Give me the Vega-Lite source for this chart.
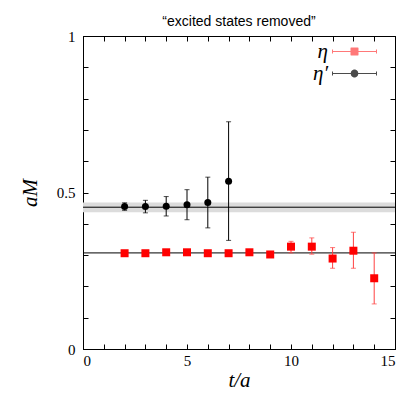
{
  "$schema": "https://vega.github.io/schema/vega-lite/v6.json",
  "width": 312,
  "height": 313,
  "autosize": "none",
  "padding": {"left": 83, "top": 36, "right": 11, "bottom": 46},
  "title": {"text": "“excited states removed”", "font": "Liberation Sans", "fontSize": 14, "fontWeight": "normal", "color": "black", "offset": 0, "anchor": "middle"},
  "config": {
    "view": {"stroke": "black", "strokeWidth": 1},
    "axis": {"domainColor": "black", "tickColor": "black", "labelColor": "black", "titleColor": "black", "grid": false, "labelFont": "Liberation Serif", "labelFontSize": 15, "titleFont": "Liberation Serif", "titleFontSize": 21, "titleFontStyle": "italic", "titleFontWeight": "normal", "tickSize": -5, "tickWidth": 1}
  },
  "datasets": {
    "pts": [
      {"series": "η′", "t": 2, "m": 0.455, "lo": 0.443, "hi": 0.467},
      {"series": "η′", "t": 3, "m": 0.455, "lo": 0.435, "hi": 0.475},
      {"series": "η′", "t": 4, "m": 0.456, "lo": 0.425, "hi": 0.487},
      {"series": "η′", "t": 5, "m": 0.461, "lo": 0.413, "hi": 0.509},
      {"series": "η′", "t": 6, "m": 0.468, "lo": 0.387, "hi": 0.549},
      {"series": "η′", "t": 7, "m": 0.536, "lo": 0.347, "hi": 0.726},
      {"series": "η", "t": 2, "m": 0.306, "lo": 0.303, "hi": 0.309},
      {"series": "η", "t": 3, "m": 0.306, "lo": 0.303, "hi": 0.309},
      {"series": "η", "t": 4, "m": 0.309, "lo": 0.306, "hi": 0.312},
      {"series": "η", "t": 5, "m": 0.309, "lo": 0.306, "hi": 0.312},
      {"series": "η", "t": 6, "m": 0.306, "lo": 0.303, "hi": 0.309},
      {"series": "η", "t": 7, "m": 0.306, "lo": 0.303, "hi": 0.309},
      {"series": "η", "t": 8, "m": 0.309, "lo": 0.306, "hi": 0.312},
      {"series": "η", "t": 9, "m": 0.302, "lo": 0.296, "hi": 0.308},
      {"series": "η", "t": 10, "m": 0.327, "lo": 0.307, "hi": 0.344},
      {"series": "η", "t": 11, "m": 0.327, "lo": 0.303, "hi": 0.355},
      {"series": "η", "t": 12, "m": 0.289, "lo": 0.258, "hi": 0.324},
      {"series": "η", "t": 13, "m": 0.314, "lo": 0.258, "hi": 0.373},
      {"series": "η", "t": 14, "m": 0.226, "lo": 0.144, "hi": 0.307}
    ],
    "band": [{"x0": 0, "x1": 15, "y0": 0.437, "y1": 0.468}],
    "fits": [{"level": 0.453}, {"level": 0.307}]
  },
  "layer": [
    {
      "data": {"name": "band"},
      "mark": {"type": "rect", "fill": "#dcdcdc"},
      "encoding": {
        "x": {"field": "x0", "type": "quantitative", "scale": {"domain": [0, 15], "nice": false, "zero": false},
          "axis": {"orient": "bottom", "values": [0,1,2,3,4,5,6,7,8,9,10,11,12,13,14,15], "labelExpr": "datum.value % 5 === 0 ? datum.label : ''", "format": "~g", "labelPadding": 9, "title": "t/a", "titlePadding": 1}},
        "x2": {"field": "x1"},
        "y": {"field": "y0", "type": "quantitative", "scale": {"domain": [0, 1], "nice": false, "zero": false},
          "axis": {"orient": "left", "values": [0,0.1,0.2,0.3,0.4,0.5,0.6,0.7,0.8,0.9,1], "labelExpr": "(datum.value === 0 || datum.value === 0.5 || datum.value === 1) ? datum.label : ''", "format": "~g", "labelPadding": 13, "title": "aM", "titlePadding": 16}},
        "y2": {"field": "y1"}
      }
    },
    {
      "data": {"name": "fits"},
      "mark": {"type": "rule", "color": "black", "strokeWidth": 1},
      "encoding": {"y": {"field": "level", "type": "quantitative", "axis": null}}
    },
    {
      "data": {"name": "pts"},
      "mark": {"type": "rule", "strokeWidth": 1},
      "encoding": {
        "x": {"field": "t", "type": "quantitative", "axis": null},
        "y": {"field": "lo", "type": "quantitative", "axis": null},
        "y2": {"field": "hi"},
        "color": {"field": "series", "type": "nominal", "scale": {"domain": ["η", "η′"], "range": ["#ff4040", "#000000"]},
          "legend": {
            "title": null, "orient": "none", "legendX": 261, "legendY": 5, "padding": 0,
            "symbolSize": 400, "symbolStrokeWidth": 1, "symbolOpacity": 1, "rowPadding": 0,
            "labelFont": "Liberation Serif", "labelFontSize": 21, "labelFontStyle": "italic", "labelColor": "black",
            "labelAlign": "right", "labelOffset": -37
          }}
      }
    },
    {
      "data": {"name": "pts"},
      "mark": {"type": "tick", "orient": "horizontal", "size": 5, "thickness": 1},
      "encoding": {
        "x": {"field": "t", "type": "quantitative", "axis": null},
        "y": {"field": "lo", "type": "quantitative", "axis": null},
        "color": {"field": "series", "type": "nominal"}
      }
    },
    {
      "data": {"name": "pts"},
      "mark": {"type": "tick", "orient": "horizontal", "size": 5, "thickness": 1},
      "encoding": {
        "x": {"field": "t", "type": "quantitative", "axis": null},
        "y": {"field": "hi", "type": "quantitative", "axis": null},
        "color": {"field": "series", "type": "nominal"}
      }
    },
    {
      "data": {"name": "pts"},
      "transform": [{"filter": "datum.series === 'η'"}],
      "mark": {"type": "point", "shape": "square", "filled": true, "size": 64, "color": "#ff0000", "opacity": 1},
      "encoding": {
        "x": {"field": "t", "type": "quantitative",
          "axis": {"orient": "top", "values": [0,1,2,3,4,5,6,7,8,9,10,11,12,13,14,15], "labels": false, "title": null}},
        "y": {"field": "m", "type": "quantitative",
          "axis": {"orient": "right", "values": [0,0.1,0.2,0.3,0.4,0.5,0.6,0.7,0.8,0.9,1], "labels": false, "title": null}}
      }
    },
    {
      "data": {"name": "pts"},
      "transform": [{"filter": "datum.series === 'η′'"}],
      "mark": {"type": "point", "shape": "circle", "filled": true, "size": 49, "color": "#000000", "opacity": 1},
      "encoding": {
        "x": {"field": "t", "type": "quantitative", "axis": null},
        "y": {"field": "m", "type": "quantitative", "axis": null}
      }
    },
    {
      "data": {"name": "pts"},
      "transform": [{"filter": "false"}],
      "mark": {"type": "point", "filled": false, "opacity": 1, "strokeWidth": 1},
      "encoding": {
        "x": {"field": "t", "type": "quantitative", "axis": null},
        "y": {"field": "m", "type": "quantitative", "axis": null},
        "color": {"field": "series", "type": "nominal"},
        "shape": {"field": "series", "type": "nominal",
          "scale": {"domain": ["η", "η′"], "range": [
            "M-2.2,0H2.2M-2.2,-0.2V0.2M2.2,-0.2V0.2M-0.38,-0.35H0.38M-0.38,-0.3H0.38M-0.38,-0.25H0.38M-0.38,-0.2H0.38M-0.38,-0.15H0.38M-0.38,-0.1H0.38M-0.38,-0.05H0.38M-0.38,0.05H0.38M-0.38,0.1H0.38M-0.38,0.15H0.38M-0.38,0.2H0.38M-0.38,0.25H0.38M-0.38,0.3H0.38M-0.38,0.35H0.38",
            "M-2.2,0H2.2M-2.2,-0.2V0.2M2.2,-0.2V0.2M-0.12,-0.35H0.12M-0.217,-0.3H0.217M-0.273,-0.25H0.273M-0.311,-0.2H0.311M-0.338,-0.15H0.338M-0.356,-0.1H0.356M-0.367,-0.05H0.367M-0.367,0.05H0.367M-0.356,0.1H0.356M-0.338,0.15H0.338M-0.311,0.2H0.311M-0.273,0.25H0.273M-0.217,0.3H0.217M-0.12,0.35H0.12"
          ]},
          "legend": {
            "title": null, "orient": "none", "legendX": 261, "legendY": 5, "padding": 0,
            "symbolSize": 400, "symbolStrokeWidth": 1, "symbolOpacity": 1, "rowPadding": 0,
            "labelFont": "Liberation Serif", "labelFontSize": 21, "labelFontStyle": "italic", "labelColor": "black",
            "labelAlign": "right", "labelOffset": -37
          }}
      }
    }
  ],
  "resolve": {"axis": {"x": "independent", "y": "independent"}}
}
